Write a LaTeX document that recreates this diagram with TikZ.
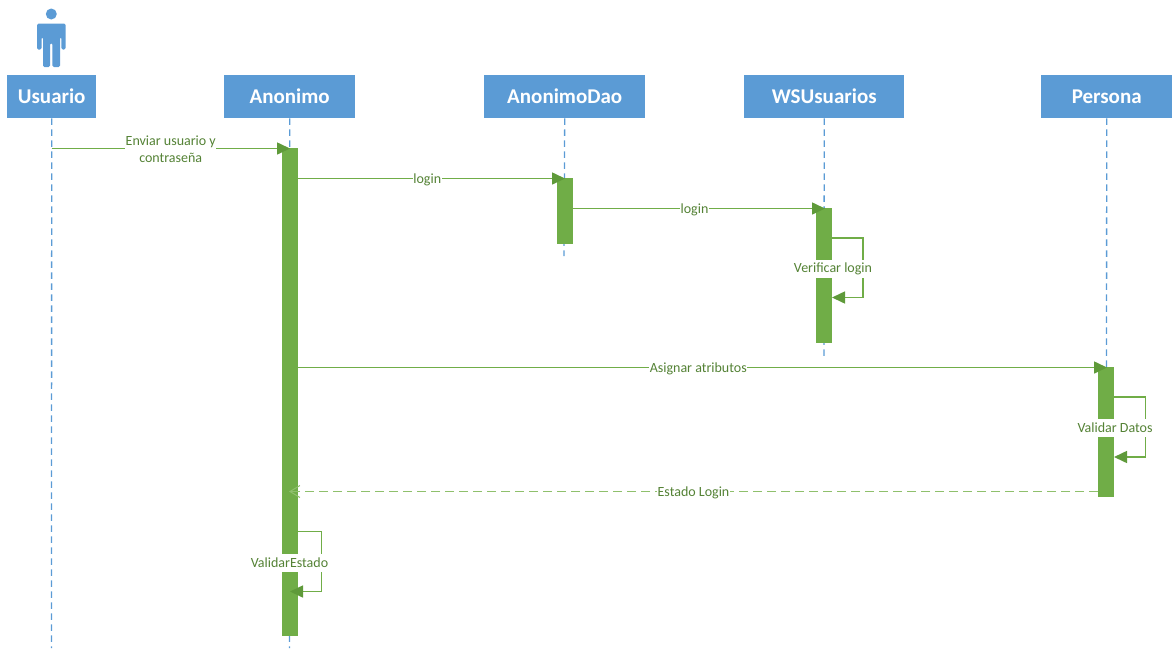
\documentclass[tikz,border=0pt]{standalone}
\usepackage{fontspec}
\setmainfont{Carlito}
\usetikzlibrary{arrows.meta}
\definecolor{hdr}{HTML}{5B9BD5}
\definecolor{bar}{HTML}{70AD47}
\definecolor{tipc}{HTML}{5F9A3A}
\definecolor{lbl}{HTML}{548235}
\definecolor{pale}{HTML}{8FC06C}
\tikzset{
  x=1pt,y=-1pt,
  head/.style={draw=none,fill=hdr,text=white,font=\fontsize{21}{25}\selectfont\bfseries,minimum height=43pt,inner sep=0pt,anchor=north west},
  lifeline/.style={draw=hdr,line width=1.3pt,dash pattern=on 6.5pt off 4.5pt},
  actbar/.style={draw=none,fill=bar,inner sep=0pt,minimum width=16pt,anchor=north},
  msg/.style={draw=bar,line width=1.6pt,-{Triangle[length=13pt,width=12pt,color=tipc]}},
  ret/.style={draw=pale,line width=1.8pt,dash pattern=on 9pt off 5pt,-{Straight Barb[length=10pt,width=12pt,color=pale,line width=1pt]}},
  msglbl/.style={fill=white,text=lbl,font=\fontsize{14}{17}\selectfont,inner xsep=0.5pt,inner ysep=1.5pt,align=center,yshift=-1pt},
  selflbl/.style={msglbl,minimum height=18pt,yshift=0pt},
}
\begin{document}
\begin{tikzpicture}
\useasboundingbox (0,0) rectangle (1172,648);
% heads
\node[head,minimum width=89pt]  (usuario) at (7,75)    {Usuario};
\node[head,minimum width=131pt] (anonimo) at (224,75)  {Anonimo};
\node[head,minimum width=161pt] (dao)     at (484,75)  {AnonimoDao};
\node[head,minimum width=160pt] (ws)      at (744,75)  {WSUsuarios};
\node[head,minimum width=131pt] (persona) at (1041,75) {Persona};
% lifeline ends
\coordinate (usuarioEnd) at (51.5,648);
\coordinate (anonimoEnd) at (289.5,648);
\coordinate (daoEnd) at (564,256);
\coordinate (wsEnd) at (824,359);
\coordinate (personaEnd) at (1106.5,400);
\draw[lifeline] (usuario.south) -- (usuarioEnd);
\draw[lifeline] (anonimo.south) -- (anonimoEnd);
\draw[lifeline] (dao.south) -- (daoEnd);
\draw[lifeline] (ws.south) -- (wsEnd);
\draw[lifeline] (persona.south) -- (personaEnd);
% actor
\fill[hdr] (51.3,14) circle (5.5);
\fill[hdr,rounded corners=1.5pt] (37,49.5) -- (37,23.5) -- (65.7,23.5) -- (65.7,49.5) -- (61.3,49.5) -- (61.3,37) -- (60,37) -- (60,67) -- (52.3,67) -- (52.3,43) -- (50,43) -- (50,67) -- (43,67) -- (43,37) -- (41.7,37) -- (41.7,49.5) -- cycle;
% activations
\node[actbar,minimum height=488pt] (aAnon) at (290,148) {};
\node[actbar,minimum height=66pt]  (aDao)  at (564.5,178) {};
\node[actbar,minimum height=135pt] (aWs)   at (824,208) {};
\node[actbar,minimum height=130pt] (aPers) at (1106,367) {};
% message ends
\coordinate (m1a) at (51.5,148.5);   \coordinate (m1b) at (290,148.5);
\coordinate (m2a) at (289.5,178.5);  \coordinate (m2b) at (565,178.5);
\coordinate (m3a) at (564,208.5);    \coordinate (m3b) at (825,208.5);
\coordinate (m4a) at (289.5,367.5);  \coordinate (m4b) at (1107,367.5);
\coordinate (m5a) at (1098,491.5);   \coordinate (m5b) at (289,491.5);
\coordinate (s1a) at (824,238);  \coordinate (s1c) at (863,238); \coordinate (s1d) at (863,297.5); \coordinate (s1b) at (832,297.5);
\coordinate (s2a) at (1106,397); \coordinate (s2c) at (1145.5,397); \coordinate (s2d) at (1145.5,457); \coordinate (s2b) at (1114,457);
\coordinate (s3a) at (289.5,531.5); \coordinate (s3c) at (321.5,531.5); \coordinate (s3d) at (321.5,591.5); \coordinate (s3b) at (290,591.5);
% messages
\draw[msg] (m1a) -- node[msglbl,pos=0.5] (l1) {Enviar usuario y\\contraseña} (m1b);
\draw[msg] (m2a) -- node[msglbl,pos=0.5] (l2) {login} (m2b);
\draw[msg] (m3a) -- node[msglbl,pos=0.5] (l3) {login} (m3b);
\draw[msg] (m4a) -- node[msglbl,pos=0.5] (l4) {Asignar atributos} (m4b);
\draw[ret] (m5a) -- node[msglbl,pos=0.5] (l5) {Estado Login} (m5b);
\draw[msg] (s1a) -- (s1c) -- (s1d) -- (s1b);
\draw[msg] (s2a) -- (s2c) -- (s2d) -- (s2b);
\draw[msg] (s3a) -- (s3c) -- (s3d) -- (s3b);
\node[selflbl] (l6) at (833,268) {Verificar login};
\node[selflbl] (l7) at (1115,427) {Validar Datos};
\node[selflbl] (l8) at (289.5,561.5) {ValidarEstado};
\end{tikzpicture}
\end{document}
